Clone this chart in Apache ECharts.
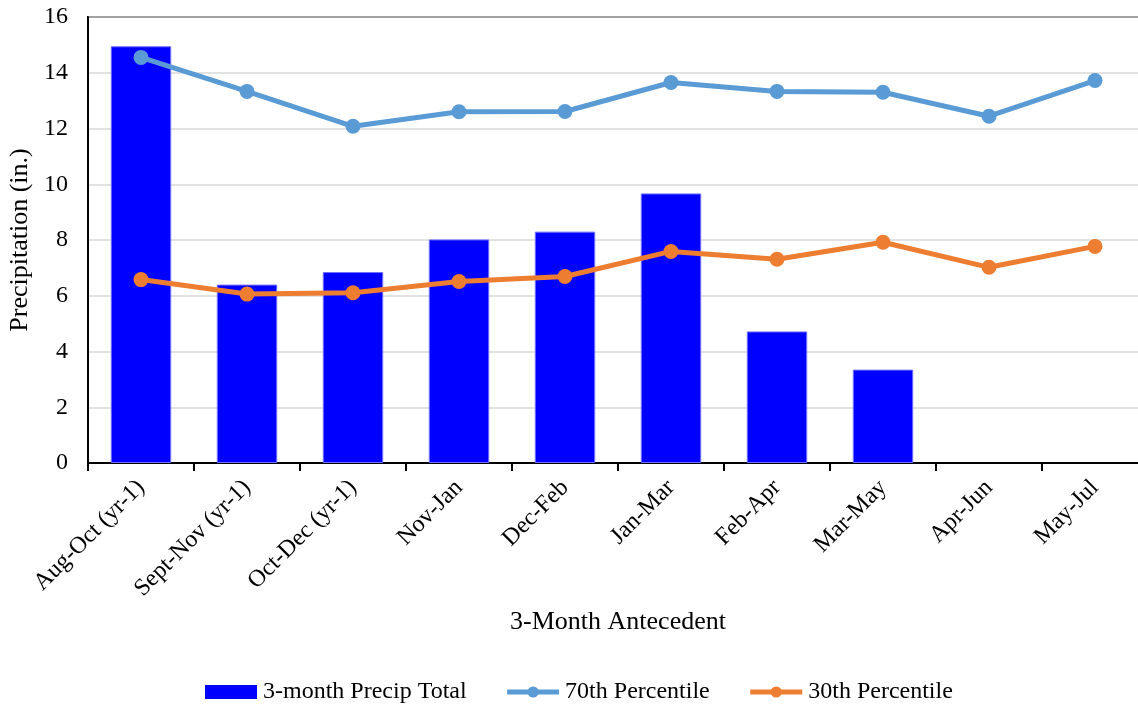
<!DOCTYPE html>
<html>
<head>
<meta charset="utf-8">
<script src="https://cdn.jsdelivr.net/npm/echarts@6/dist/echarts.min.js"></script>
<style>
  html, body { margin: 0; padding: 0; background: #fff; }
  #chart { width: 1138px; height: 704px; }
</style>
</head>
<body>
<div id="chart"></div>
<script>
const categories = ['Aug-Oct (yr-1)', 'Sept-Nov (yr-1)', 'Oct-Dec (yr-1)', 'Nov-Jan', 'Dec-Feb',
  'Jan-Mar', 'Feb-Apr', 'Mar-May', 'Apr-Jun', 'May-Jul']
const precipTotal = [14.95, 6.40, 6.85, 8.02, 8.30, 9.67, 4.72, 3.35, null, null]
const pct70 = [14.55, 13.33, 12.08, 12.60, 12.61, 13.65, 13.33, 13.30, 12.44, 13.72]
const pct30 = [6.58, 6.06, 6.11, 6.51, 6.69, 7.59, 7.31, 7.92, 7.02, 7.77]

const font = '"Liberation Serif", "Times New Roman", serif'
const chart = echarts.init(document.getElementById('chart'))

chart.setOption({
  animation: false,
  textStyle: { fontFamily: font, color: '#000' },
  grid: {
    left: 88, top: 17, width: 1060, height: 446,
    outerBoundsMode: 'none',
    containLabel: false,
    show: true, borderColor: '#000', borderWidth: 2, backgroundColor: 'transparent'
  },
  legend: {
    top: 675,
    left: 200,
    itemGap: 38,
    itemWidth: 52,
    itemHeight: 14,
    itemStyle: { borderWidth: 0 },
    lineStyle: { width: 5 },
    textStyle: { fontFamily: font, fontSize: 24, color: '#000', padding: [0, 0, 0, 1] },
    data: [
      { name: '3-month Precip Total', icon: 'rect', itemStyle: { borderWidth: 0 } },
      { name: '70th Percentile' },
      { name: '30th Percentile' }
    ]
  },
  xAxis: {
    type: 'category',
    data: categories,
    name: '3-Month Antecedent',
    nameLocation: 'middle',
    nameGap: 146,
    nameTextStyle: { fontFamily: font, fontSize: 26, color: '#000' },
    axisLine: { lineStyle: { color: '#000', width: 2 } },
    axisTick: { show: true, length: 8, lineStyle: { color: '#000', width: 2 } },
    axisLabel: { rotate: 45, margin: 21, fontFamily: font, fontSize: 24, color: '#000' }
  },
  yAxis: {
    type: 'value',
    min: 0, max: 16, interval: 2,
    name: 'Precipitation (in.)',
    nameLocation: 'middle',
    nameGap: 55,
    nameTextStyle: { fontFamily: font, fontSize: 26, color: '#000' },
    axisLine: { show: true, lineStyle: { color: '#000', width: 2 } },
    axisTick: { show: false },
    axisLabel: { fontFamily: font, fontSize: 24, color: '#000', margin: 20 },
    splitLine: { lineStyle: { color: '#d9d9d9', width: 1.5 } }
  },
  series: [
    {
      name: '3-month Precip Total',
      type: 'bar',
      data: precipTotal,
      barWidth: '57%',
      itemStyle: { color: '#0000ff', borderColor: '#6f6fff', borderWidth: 1 }
    },
    {
      name: '70th Percentile',
      type: 'line',
      data: pct70,
      symbol: 'circle',
      symbolSize: 15,
      lineStyle: { color: '#5b9bd5', width: 5 },
      itemStyle: { color: '#5b9bd5' }
    },
    {
      name: '30th Percentile',
      type: 'line',
      data: pct30,
      symbol: 'circle',
      symbolSize: 15,
      lineStyle: { color: '#ed7d31', width: 5 },
      itemStyle: { color: '#ed7d31' }
    }
  ]
})
</script>
</body>
</html>
